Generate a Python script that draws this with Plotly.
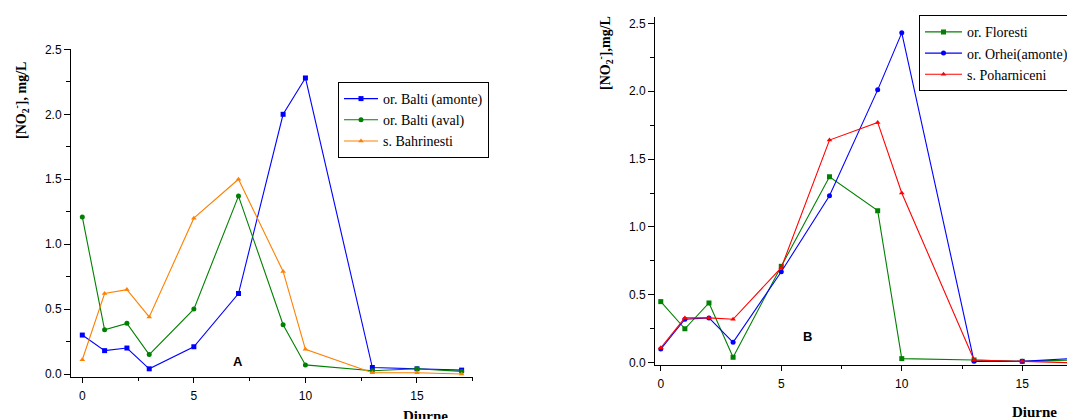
import plotly.graph_objects as go

days = [0, 1, 2, 3, 5, 7, 9, 10, 13, 15, 17]

# Panel A
balti_amonte = [0.30, 0.18, 0.20, 0.04, 0.21, 0.62, 2.00, 2.28, 0.05, 0.04, 0.03]
balti_aval = [1.21, 0.34, 0.39, 0.15, 0.50, 1.37, 0.38, 0.07, 0.025, 0.04, 0.02]
bahrinesti = [0.11, 0.62, 0.65, 0.44, 1.20, 1.50, 0.79, 0.19, 0.01, 0.01, 0.00]

# Panel B
floresti = [0.45, 0.25, 0.44, 0.04, 0.71, 1.37, 1.12, 0.03, 0.02, 0.01, 0.02]
orhei = [0.10, 0.32, 0.33, 0.15, 0.67, 1.23, 2.01, 2.43, 0.01, 0.01, 0.03]
poharniceni = [0.11, 0.33, 0.33, 0.32, 0.70, 1.64, 1.77, 1.25, 0.02, 0.01, 0.00]

W, H = 1075, 419
OFF = 8  # default page body margin


def px(x):
    return (x - OFF) / W


def py(y):
    return 1 - (y - OFF) / H


BLUE, GREEN, ORANGE, RED = "#0000FF", "#008000", "#FF8000", "#FF0000"

fig = go.Figure()


def add(x, y, name, color, symbol, xa, ya, legend):
    fig.add_trace(go.Scatter(
        x=x, y=y, name=name, mode="lines+markers",
        line=dict(color=color, width=1.1),
        marker=dict(color=color, symbol=symbol, size=5),
        xaxis=xa, yaxis=ya, legend=legend))


add(days, balti_amonte, "or. Balti (amonte)", BLUE, "square", "x", "y", "legend")
add(days, balti_aval, "or. Balti (aval)", GREEN, "circle", "x", "y", "legend")
add(days, bahrinesti, "s. Bahrinesti", ORANGE, "triangle-up", "x", "y", "legend")
add(days, floresti, "or. Floresti", GREEN, "square", "x2", "y2", "legend2")
add(days, orhei, "or. Orhei(amonte)", BLUE, "circle", "x2", "y2", "legend2")
add(days, poharniceni, "s. Poharniceni", RED, "triangle-up", "x2", "y2", "legend2")

tickfont = dict(family="Liberation Sans, Arial", size=12, color="black")


def xax(domain, rng, anchor):
    return dict(domain=domain, range=rng, anchor=anchor, showgrid=False, zeroline=False,
                showline=True, linecolor="black", linewidth=1, automargin=False,
                ticks="outside", ticklen=5, tickcolor="black", tickwidth=1,
                tickvals=[0, 5, 10, 15], ticktext=["0", "5", "10", "15"],
                minor=dict(tickvals=[2.5, 7.5, 12.5, 17.5], ticks="outside", ticklen=3, tickcolor="black"),
                tickfont=tickfont, ticklabelstandoff=3)


def yax(domain, rng, anchor):
    return dict(domain=domain, range=rng, anchor=anchor, showgrid=False, zeroline=False,
                showline=True, linecolor="black", linewidth=1, automargin=False,
                ticks="outside", ticklen=6, tickcolor="black", tickwidth=1,
                tickvals=[0, 0.5, 1.0, 1.5, 2.0, 2.5], tickformat=".1f",
                minor=dict(tickvals=[0.25, 0.75, 1.25, 1.75, 2.25], ticks="outside", ticklen=4, tickcolor="black"),
                tickfont=tickfont)


legfont = dict(family="Liberation Serif, Times New Roman", size=14, color="black")
fig.update_layout(
    width=W, height=H,
    margin=dict(l=0, r=0, t=0, b=0, autoexpand=False),
    paper_bgcolor="white", plot_bgcolor="white",
    xaxis=xax([px(71), px(473)], [-0.506, 17.51], "y"),
    yaxis=yax([py(377), py(49)], [-0.023, 2.503], "x"),
    xaxis2=xax([px(655), 1.0], [-0.24, 17.52], "y2"),
    yaxis2=yax([py(365), py(16.7)], [-0.017, 2.549], "x2"),
    legend=dict(x=px(338), y=py(82), xanchor="left", yanchor="top",
                bgcolor="white", bordercolor="black", borderwidth=1,
                font=legfont, tracegroupgap=0, itemwidth=34),
    legend2=dict(x=px(919), y=py(15.3), xanchor="left", yanchor="top",
                 bgcolor="white", bordercolor="black", borderwidth=1,
                 font=legfont, tracegroupgap=0, itemwidth=37),
    showlegend=True,
)

titlefont = dict(family="Liberation Serif, Times New Roman", size=14, color="black")
xtfont = dict(family="Liberation Serif, Times New Roman", size=15, color="black")


def note(x, y, text, angle=0, font=titlefont, xref="paper", yref="paper"):
    fig.add_annotation(x=x, y=y, xref=xref, yref=yref, text=text, textangle=angle,
                       showarrow=False, font=font, xanchor="center", yanchor="middle")


note(px(21), py(101), "<b>[NO<sub>2</sub><sup>-</sup>], mg/L</b>", angle=-90)
note(px(605), py(53), "<b>[NO<sub>2</sub><sup>-</sup>],mg/L</b>", angle=-90)
note(px(425), py(416), "<b>Diurne</b>", font=xtfont)
note(px(1034), py(412), "<b>Diurne</b>", font=xtfont)

labfont = dict(family="Liberation Sans, Arial", size=13, color="black")
note(7, 0.1, "<b>A</b>", font=labfont, xref="x", yref="y")
note(6.07, 0.19, "<b>B</b>", font=labfont, xref="x2", yref="y2")

fig.write_html("out.html")
